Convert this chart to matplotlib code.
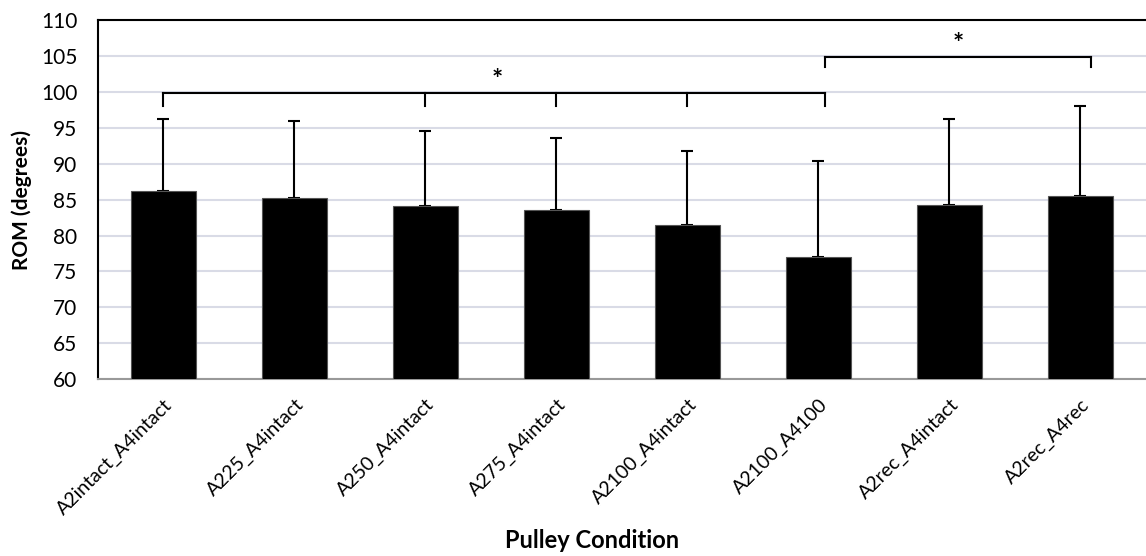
import numpy as np
import matplotlib.pyplot as plt

conditions = ['A2intact_A4intact', 'A225_A4intact', 'A250_A4intact', 'A275_A4intact',
              'A2100_A4intact', 'A2100_A4100', 'A2rec_A4intact', 'A2rec_A4rec']
rom_mean = [86.2, 85.2, 84.1, 83.5, 81.5, 77.0, 84.3, 85.5]
rom_sd = [10.0, 10.7, 10.4, 10.1, 10.3, 13.4, 11.9, 12.5]

# significance brackets: bar indices with drop ticks
bracket1 = [0, 2, 3, 4, 5]
bracket2 = [5, 7]

plt.rcParams['font.family'] = ['Lato', 'DejaVu Sans']

fig = plt.figure(figsize=(11.46, 5.56), dpi=100)
ax = fig.add_axes([0.0855, 0.318, 0.9145, 0.646])

x = np.arange(len(conditions))
ax.bar(x, rom_mean, width=0.5, color='black', edgecolor='#555555', linewidth=0.8, zorder=3)
ax.errorbar(x, rom_mean, yerr=[np.zeros(len(x)), rom_sd], fmt='none', ecolor='black',
            elinewidth=1.5, capsize=4.5, capthick=1.5, zorder=2)

ax.set_ylim(60, 110)
ax.set_xlim(-0.5, len(conditions) - 0.5)
ax.set_yticks(np.arange(60, 111, 5))
ax.yaxis.grid(True, color='#d9dbe6', linewidth=1.5, zorder=0)
ax.set_axisbelow(True)
ax.tick_params(axis='y', length=0, labelsize=15, pad=15)
ax.tick_params(axis='x', length=0, labelsize=14, pad=12)
ax.set_xticks(x)
ax.set_xticklabels(conditions, rotation=45, ha='right', rotation_mode='anchor')

for s in ['top', 'left']:
    ax.spines[s].set_color('black')
    ax.spines[s].set_linewidth(1.5)
ax.spines['bottom'].set_color('#999999')
ax.spines['bottom'].set_linewidth(1.5)
ax.spines['right'].set_visible(False)

ax.set_ylabel('ROM (degrees)', fontsize=15, fontweight='bold', labelpad=6)
fig.text(0.517, 0.008, 'Pulley Condition', fontsize=17, fontweight='bold', ha='center', va='bottom')

# bracket 1
y1 = 99.8
ax.plot([bracket1[0], bracket1[-1] + 0.05], [y1, y1], color='black', lw=1.5, zorder=4)
for b in bracket1:
    xb = b + 0.05 if b == bracket1[-1] else b
    ax.plot([xb, xb], [y1, 98.0], color='black', lw=1.5, zorder=4)
ax.text(2.55, 101.6, '*', fontsize=19, fontweight='bold', ha='center', va='center')

# bracket 2
y2 = 104.8
xa, xb = bracket2[0] + 0.05, bracket2[1] + 0.08
ax.plot([xa, xb], [y2, y2], color='black', lw=1.5, zorder=4)
ax.plot([xa, xa], [y2, 103.5], color='black', lw=1.5, zorder=4)
ax.plot([xb, xb], [y2, 103.5], color='black', lw=1.5, zorder=4)
ax.text((xa + xb) / 2, 106.6, '*', fontsize=19, fontweight='bold', ha='center', va='center')

fig.savefig('out.png', dpi=100)
